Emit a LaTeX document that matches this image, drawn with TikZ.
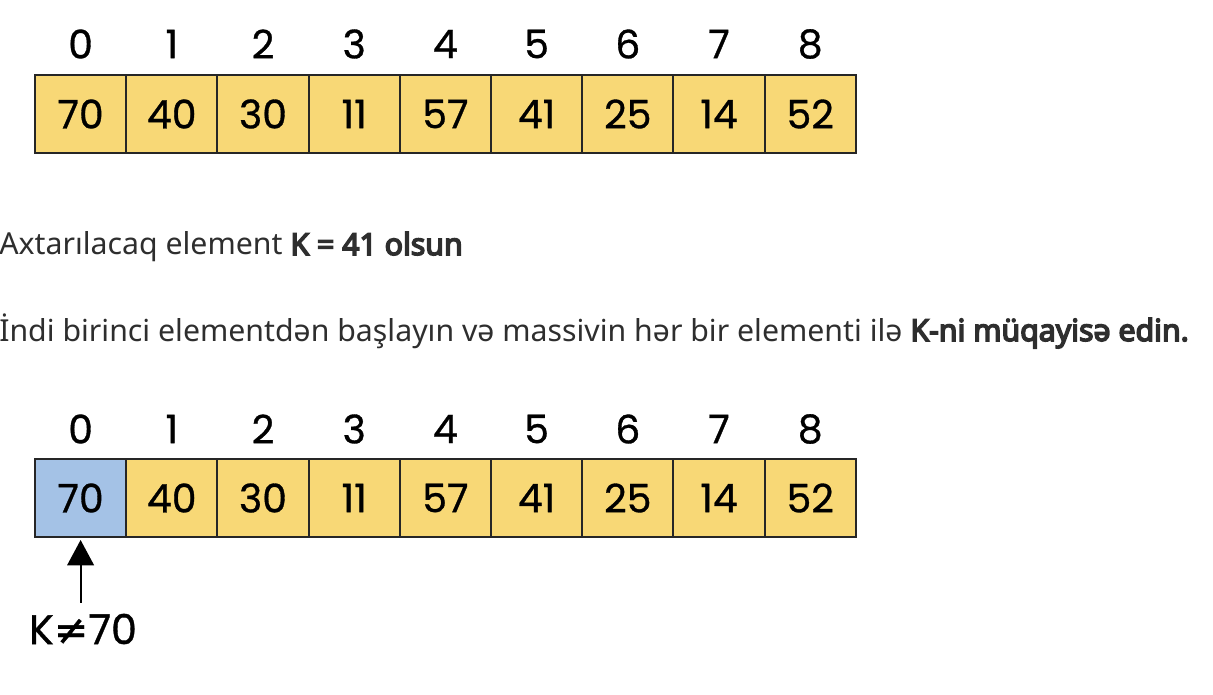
\documentclass[tikz,border=0pt]{standalone}
\usepackage{fontspec}
\setmainfont{Noto Sans}[AutoFakeBold=5]
\newfontfamily\cellfont[FakeBold=0.8]{Poppins}
\newfontfamily\symfont[FakeBold=0.8]{DejaVu Sans}
\usetikzlibrary{positioning,arrows.meta}
\definecolor{cellyellow}{HTML}{F8D876}
\definecolor{cellblue}{HTML}{A4C2E6}
\definecolor{textgray}{HTML}{2E2E2E}

\begin{document}
\begin{tikzpicture}[
x=0.75pt, y=-0.75pt,
cell/.style={draw=black!85, line width=1.5pt, fill=cellyellow, minimum width=68.4pt, minimum height=58.5pt, inner sep=0pt, outer sep=0pt, font=\cellfont\fontsize{29.5}{30}\selectfont},
idx/.style={font=\cellfont\fontsize{29.5}{30}\selectfont},
line/.style={anchor=base west, inner sep=0pt, text=textgray, font=\fontsize{22.7}{26}\selectfont},
arr/.style={-{Triangle[length=19pt,width=20pt]}, line width=1.5pt}
]
\useasboundingbox (0,0) rectangle (1213,695);
% array before the search
\foreach \v [count=\i from 0] in {70,40,30,11,57,41,25,14,52} {
  \node[cell] (a\i) at (80.6+91.2*\i,114) {\v};
  \node[idx] (ia\i) at (80.6+91.2*\i,44) {\i};
}
\node[line] (goal) at (-1,255) {Axtarılacaq element \textbf{K = 41 olsun}};
\node[line] (hint) at (-1,341) {İndi birinci elementdən başlayın və massivin hər bir elementi ilə \textbf{K-ni müqayisə edin.}};
% first comparison
\foreach \v [count=\i from 0] in {70,40,30,11,57,41,25,14,52} {
  \node[cell] (b\i) at (80.6+91.2*\i,498) {\v};
  \node[idx] (ib\i) at (80.6+91.2*\i,429) {\i};
}
\node[cell, fill=cellblue] at (b0) {70};
\node[idx, inner sep=0pt, font=\cellfont\fontsize{31}{32}\selectfont] (neq) at (83,629) {K{\symfont ≠}70};
\draw[arr, shorten <=8pt, shorten >=2.25pt] (b0.south |- neq.north) -- (b0.south);
\end{tikzpicture}
\end{document}
